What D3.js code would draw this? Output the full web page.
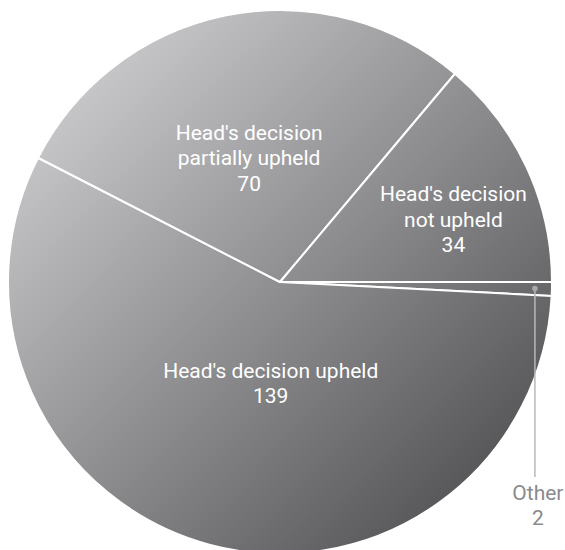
<!DOCTYPE html>
<html><head><meta charset="utf-8">
<script src="https://cdn.jsdelivr.net/npm/d3@7"></script>
<style>body{margin:0;background:#fff}svg{display:block}</style>
</head><body>
<svg id="chart" width="565" height="550"></svg>
<script>
const categories = ["Other", "Head's decision upheld", "Head's decision partially upheld", "Head's decision not upheld"];
const values = [2, 139, 70, 34];
const labelLines = [["Other"], ["Head's decision upheld"], ["Head's decision", "partially upheld"], ["Head's decision", "not upheld"]];

const W = 565, H = 550, cx = 280, cy = 282, R = 272;
const svg = d3.select("#chart");
const defs = svg.append("defs");
const grad = defs.append("linearGradient").attr("id", "g")
  .attr("gradientUnits", "userSpaceOnUse")
  .attr("x1", -R).attr("y1", -R).attr("x2", R).attr("y2", R);
grad.append("stop").attr("offset", "0%").attr("stop-color", "#dcdcde");
grad.append("stop").attr("offset", "100%").attr("stop-color", "#424245");

const pie = d3.pie().sort(null).startAngle(Math.PI / 2).endAngle(Math.PI / 2 + 2 * Math.PI);
const arcs = pie(values);
const arc = d3.arc().innerRadius(0).outerRadius(R);
const g = svg.append("g").attr("transform", `translate(${cx},${cy})`);
g.selectAll("path").data(arcs).join("path")
  .attr("d", arc).attr("fill", "url(#g)")
  .attr("stroke", "#fff").attr("stroke-width", 2).attr("stroke-linejoin", "round");

// label layout (radius from centre, pixel nudge)
const layout = [null, {r: 105, dx: 18, dy: 0}, {r: 126, dx: -6, dy: 0}, {r: 188, dx: 3, dy: 17}];
const lineH = 25.5;
const FS = 21;
arcs.forEach((a, i) => {
  if (!layout[i]) return;
  const L = layout[i];
  const c = d3.arc().innerRadius(L.r).outerRadius(L.r).centroid(a);
  const lines = labelLines[i].concat([String(values[i])]);
  const t = g.append("text").attr("text-anchor", "middle")
    .attr("font-family", "Roboto, sans-serif").attr("font-size", FS).attr("fill", "#fff");
  const y0 = c[1] + L.dy - (lines.length - 1) * lineH / 2 + 7;
  lines.forEach((s, k) => t.append("tspan").attr("x", c[0] + L.dx).attr("y", y0 + k * lineH).text(s));
});

// "Other" leader
const o = arcs[0];
const mid = (o.startAngle + o.endAngle) / 2;
const pr = R - 17;
const px = Math.sin(mid) * pr, py = -Math.cos(mid) * pr;
g.append("line").attr("x1", px).attr("y1", py).attr("x2", px).attr("y2", 477 - cy)
  .attr("stroke", "#b8b8ba").attr("stroke-width", 1.5);
g.append("circle").attr("cx", px).attr("cy", py).attr("r", 2.8).attr("fill", "#a8a8aa");
const ot = g.append("text").attr("text-anchor", "middle")
  .attr("font-family", "Roboto, sans-serif").attr("font-size", FS).attr("fill", "#8a8a8c");
[labelLines[0][0], String(values[0])].forEach((s, k) =>
  ot.append("tspan").attr("x", px + 3).attr("y", 500 - cy + k * 25).text(s));
</script>
</body></html>
